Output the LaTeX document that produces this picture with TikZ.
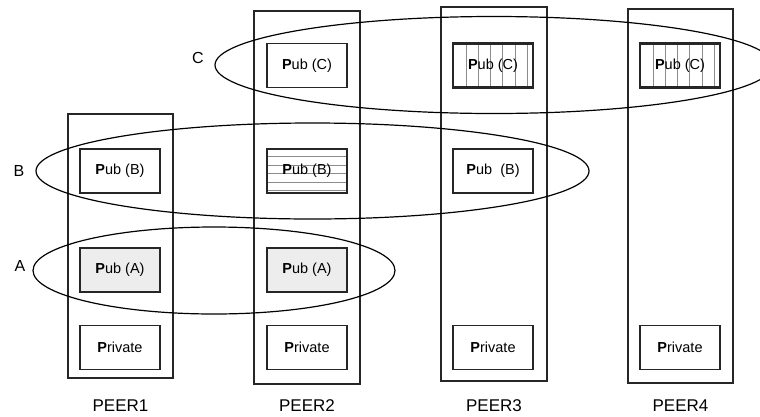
\documentclass[tikz,border=0pt]{standalone}
\usepackage{fontspec}
\setmainfont{Liberation Sans}
\usetikzlibrary{shapes.geometric}
\begin{document}
\begin{tikzpicture}[x=1pt,y=-1pt,
  peercol/.style={draw=black!85, line width=1.2pt, inner sep=0pt},
  store/.style={draw=black!85, line width=1.4pt, fill=white, inner sep=0pt,
    minimum width=80pt, minimum height=44pt,
    font=\fontsize{14.5}{17}\selectfont},
  shared/.style={store, fill=black!7},
  hatchline/.style={draw=black!45, line width=0.5pt},
  vhatch/.style={store, line width=2.2pt, path picture={
    \foreach \d in {13,25.2,...,80}
      \draw[hatchline] ([xshift=\d pt]path picture bounding box.north west)
        -- ([xshift=\d pt]path picture bounding box.south west);}},
  hhatch/.style={store, line width=2.2pt, path picture={
    \foreach \d in {7.7,16.1,...,43}
      \draw[hatchline] ([yshift=-\d pt]path picture bounding box.north west)
        -- ([yshift=-\d pt]path picture bounding box.north east);}},
  group/.style={ellipse, draw=black, line width=1.2pt, inner sep=0pt},
  grouplabel/.style={font=\fontsize{16}{19}\selectfont},
  peerlabel/.style={font=\fontsize{17}{20}\selectfont}
]
\useasboundingbox (0,0) rectangle (760,416);

% peers
\node[peercol, minimum width=105pt, minimum height=264pt] (col1) at (120.5,246) {};
\node[peercol, minimum width=106pt, minimum height=373pt] (col2) at (307,197.5) {};
\node[peercol, minimum width=106pt, minimum height=374pt] (col3) at (494,194) {};
\node[peercol, minimum width=105pt, minimum height=374pt] (col4) at (680.5,196) {};

% groups
\node[group, minimum width=558pt, minimum height=97pt] (grpC) at (494,65) {};
\node[group, minimum width=553pt, minimum height=96pt] (grpB) at (312.5,171) {};
\node[group, minimum width=362pt, minimum height=87pt] (grpA) at (214,270.5) {};

\node[grouplabel] (labC) at (198,58) {C};
\node[grouplabel] (labB) at (19,171) {B};
\node[grouplabel] (labA) at (20,266) {A};

% stores of each peer
\node[store]  (p2c) at (307,65.5) {\textbf{P}ub (C)};
\node[vhatch] (p3c) at (493,65.5) {\textbf{P}ub (C)};
\node[vhatch] (p4c) at (680,65.5) {\textbf{P}ub (C)};

\node[store]  (p1b) at (120,171) {\textbf{P}ub (B)};
\node[hhatch] (p2b) at (307,171) {\textbf{P}ub (B)};
\node[store]  (p3b) at (493,171) {\textbf{P}ub\ \ (B)};

\node[shared] (p1a) at (120,270) {\textbf{P}ub (A)};
\node[shared] (p2a) at (307,270) {\textbf{P}ub (A)};

\node[store] (p1p) at (120,347.5) {\textbf{P}rivate};
\node[store] (p2p) at (307,347.5) {\textbf{P}rivate};
\node[store] (p3p) at (493,347.5) {\textbf{P}rivate};
\node[store] (p4p) at (680,347.5) {\textbf{P}rivate};

% peer names
\node[peerlabel] (n1) at (120.5,406) {PEER1};
\node[peerlabel] (n2) at (307,406) {PEER2};
\node[peerlabel] (n3) at (494,406) {PEER3};
\node[peerlabel] (n4) at (680.5,406) {PEER4};
\end{tikzpicture}
\end{document}
